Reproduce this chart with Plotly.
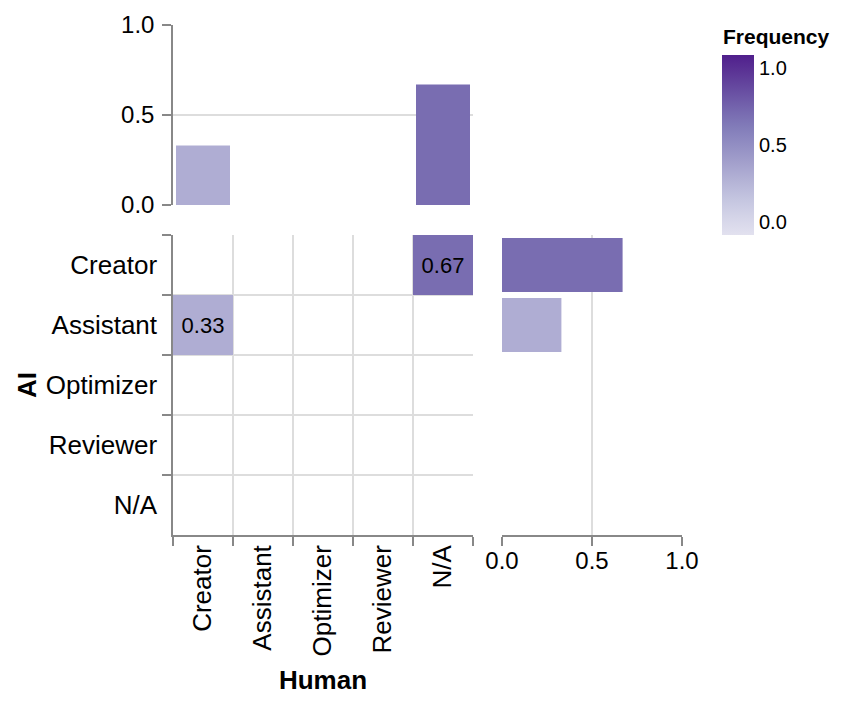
import plotly.graph_objects as go

# ---------------- data ----------------
human_roles = ["Creator", "Assistant", "Optimizer", "Reviewer", "N/A"]   # x (Human)
ai_roles = ["Creator", "Assistant", "Optimizer", "Reviewer", "N/A"]      # y (AI)

# joint frequency, rows = AI, cols = Human (None = no cell)
freq_matrix = [
    [None, None, None, None, 0.67],   # AI Creator
    [0.33, None, None, None, None],   # AI Assistant
    [None, None, None, None, None],   # AI Optimizer
    [None, None, None, None, None],   # AI Reviewer
    [None, None, None, None, None],   # AI N/A
]
cell_labels = [[("" if v is None else f"{v:.2f}") for v in row] for row in freq_matrix]

human_marginal = [0.33, 0.0, 0.0, 0.0, 0.67]
ai_marginal = [0.67, 0.33, 0.0, 0.0, 0.0]

legend_ticks = [0.0, 0.5, 1.0]
legend_ticktext = ["0.0", "0.5", "1.0"]

purples = ["#e2e1ef", "#d4d4e8", "#c4c5e0", "#b4b3d6", "#a3a0cc",
           "#928ec3", "#827cb9", "#7566ae", "#684ea2", "#5c3696", "#501f8c"]
colorscale = [[i / (len(purples) - 1), c] for i, c in enumerate(purples)]

# ---------------- layout geometry (pixels) ----------------
W, H = 844, 706
def px(x0, x1):
    return [x0 / W, x1 / W]
def py(y0, y1):  # y0 top pixel, y1 bottom pixel
    return [1 - y1 / H, 1 - y0 / H]

FONT = "Liberation Sans, Arial, Helvetica, sans-serif"
AXIS_C = "#888888"
GRID_C = "#dddddd"
CAT = 26
NUM = 24
TICKLEN = 9

fig = go.Figure()

fig.add_trace(go.Heatmap(
    x=human_roles, y=ai_roles, z=freq_matrix,
    text=cell_labels, texttemplate="%{text}",
    textfont=dict(size=22, color="black", family=FONT),
    colorscale=colorscale, zmin=0, zmax=1,
    showscale=True, xgap=0, ygap=0,
    colorbar=dict(
        x=722 / W, xanchor="left", y=1 - 235 / H, yanchor="bottom",
        lenmode="pixels", len=180, thicknessmode="pixels", thickness=32,
        outlinewidth=0, ticks="", showticklabels=False, xpad=0, ypad=0,
        tickvals=legend_ticks,
    ),
    xaxis="x", yaxis="y", hoverinfo="skip",
))

fig.add_trace(go.Bar(
    x=human_roles, y=human_marginal, width=0.9,
    marker=dict(color=human_marginal, colorscale=colorscale, cmin=0, cmax=1, line=dict(width=0)),
    xaxis="x2", yaxis="y2", showlegend=False, hoverinfo="skip",
))

fig.add_trace(go.Bar(
    y=ai_roles, x=ai_marginal, orientation="h", width=0.9,
    marker=dict(color=ai_marginal, colorscale=colorscale, cmin=0, cmax=1, line=dict(width=0)),
    xaxis="x3", yaxis="y3", showlegend=False, hoverinfo="skip",
))

cat_axis_common = dict(type="category", tickson="boundaries", ticks="outside", ticklen=TICKLEN,
                       tickcolor=AXIS_C, tickwidth=1.5, showgrid=True, gridcolor=GRID_C,
                       gridwidth=1.5, showline=True, linecolor=AXIS_C, linewidth=1.5,
                       automargin=False,
                       tickfont=dict(size=CAT, color="black", family=FONT))
num_axis_common = dict(range=[0, 1], tickvals=[0, 0.5, 1], ticktext=["0.0", "0.5", "1.0"],
                       ticks="outside", ticklen=TICKLEN, tickcolor=AXIS_C, tickwidth=1.5,
                       showgrid=True, gridcolor=GRID_C, gridwidth=1.5, showline=True,
                       linecolor=AXIS_C, linewidth=1.5, zeroline=False, automargin=False,
                       tickfont=dict(size=NUM, color="black", family=FONT))
hidden_cat = dict(type="category", showticklabels=False, showgrid=False, showline=False,
                  ticks="", zeroline=False, automargin=False)

fig.update_layout(
    width=W, height=H, margin=dict(l=0, r=0, t=0, b=0, pad=0, autoexpand=False),
    paper_bgcolor="white", plot_bgcolor="white",
    font=dict(family=FONT, color="black"),
    showlegend=False,
    xaxis=dict(domain=px(173, 473), categoryorder="array", categoryarray=human_roles,
               tickangle=-90, anchor="y", ticklabelstandoff=-2,
               title=dict(text="<b>Human</b>", font=dict(size=CAT, family=FONT), standoff=15),
               **cat_axis_common),
    yaxis=dict(domain=py(235, 535), categoryorder="array", categoryarray=ai_roles[::-1],
               anchor="x", ticklabelstandoff=9,
               title=dict(text="<b>AI</b>", font=dict(size=CAT, family=FONT), standoff=2),
               **cat_axis_common),
    xaxis2=dict(domain=px(173, 473), categoryorder="array", categoryarray=human_roles,
                anchor="y2", matches="x", **hidden_cat),
    yaxis2=dict(domain=py(25, 205), anchor="x2", ticklabelstandoff=3, **num_axis_common),
    xaxis3=dict(domain=px(502, 682), anchor="y3", ticklabelstandoff=-6, **num_axis_common),
    yaxis3=dict(domain=py(235, 535), categoryorder="array", categoryarray=ai_roles[::-1],
                anchor="x3", matches="y", **hidden_cat),
)

# legend title and labels
fig.add_annotation(text="<b>Frequency</b>", x=721 / W, y=1 - 36 / H, xref="paper", yref="paper",
                   xanchor="left", yanchor="middle", showarrow=False,
                   font=dict(size=21, family=FONT, color="black"))
leg_top, leg_bot = 55, 235
for v, t in zip(legend_ticks, legend_ticktext):
    ypix = leg_bot - v * (leg_bot - leg_top)
    anchor = "bottom" if v == 0 else ("top" if v == 1 else "middle")
    fig.add_annotation(text=t, x=757 / W, y=1 - ypix / H, xref="paper", yref="paper",
                       xanchor="left", yanchor=anchor, showarrow=False,
                       font=dict(size=20, family=FONT, color="black"))

fig.write_html("out.html", config={"displayModeBar": False},
               post_script="document.body.style.margin='0';")
